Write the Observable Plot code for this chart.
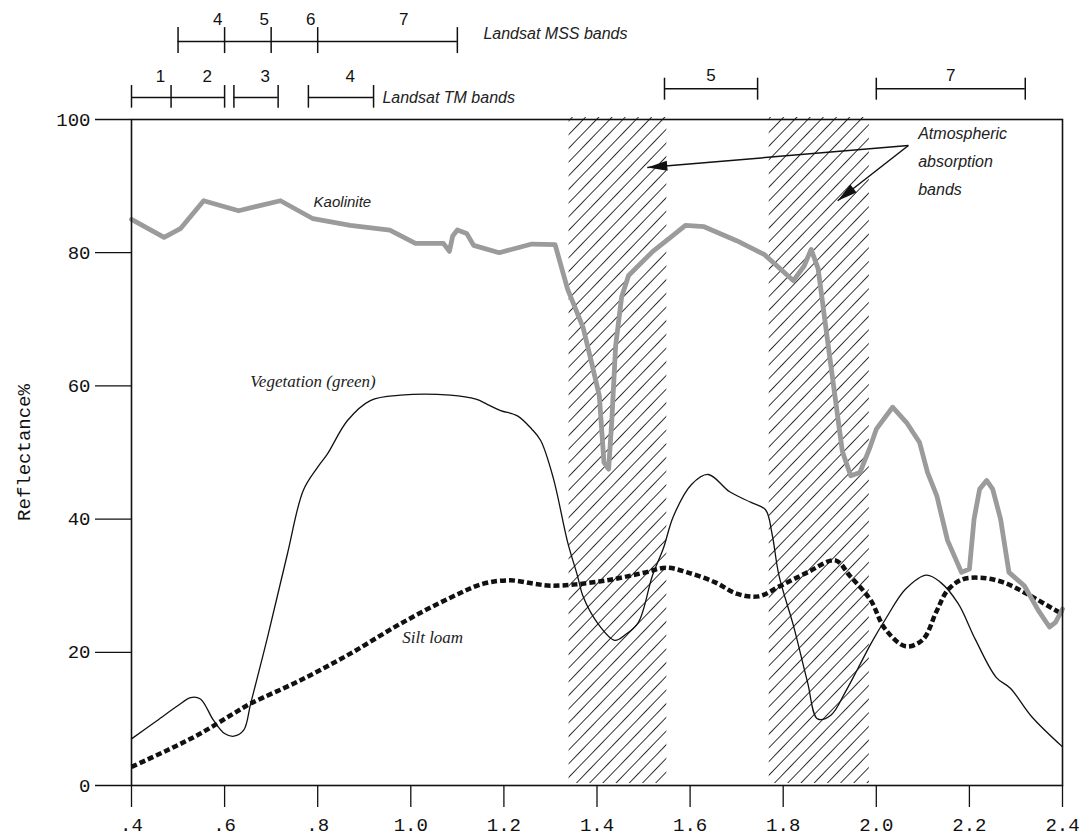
<!DOCTYPE html>
<html>
<head>
<meta charset="utf-8">
<script src="https://cdn.jsdelivr.net/npm/d3@7"></script>
<script src="https://cdn.jsdelivr.net/npm/@observablehq/plot@0.6"></script>
<style>
  html, body { margin: 0; padding: 0; background: #fff; }
  #chart svg { display: block; }
</style>
</head>
<body>
<div id="chart"></div>
<script>
// ---- Data (wavelength in µm, reflectance in %) ----
const kaolinite = [
  [0.40,85.0],[0.47,82.3],[0.505,83.6],[0.555,87.8],[0.63,86.3],[0.72,87.8],[0.79,85.1],
  [0.87,84.1],[0.955,83.4],[1.01,81.4],[1.07,81.4],[1.083,80.2],[1.09,82.5],[1.10,83.4],
  [1.12,82.9],[1.135,81.1],[1.19,80.0],[1.26,81.3],[1.31,81.2],[1.337,74.5],[1.37,68.8],
  [1.39,63.0],[1.405,58.5],[1.415,48.5],[1.425,47.5],[1.432,55],[1.44,66],[1.453,73.4],
  [1.468,76.6],[1.52,80.2],[1.558,82.3],[1.59,84.1],[1.63,83.9],[1.70,81.8],[1.76,79.7],
  [1.822,75.8],[1.845,78],[1.86,80.5],[1.875,77.6],[1.897,65.9],[1.927,50.2],[1.945,46.5],
  [1.965,47],[1.985,50.5],[2.0,53.5],[2.035,56.8],[2.065,54.5],[2.093,51.5],[2.11,47],
  [2.13,43.5],[2.153,36.8],[2.183,32.0],[2.2,32.5],[2.21,40],[2.222,44.5],[2.237,45.8],
  [2.25,44.5],[2.267,40],[2.285,32],[2.318,30],[2.348,26.3],[2.372,23.8],[2.385,24.5],[2.40,26.5]
];
const vegetation = [
  [0.40,7.0],[0.45,9.5],[0.50,12.0],[0.527,13.2],[0.548,13.0],[0.576,9.8],[0.60,7.8],
  [0.62,7.4],[0.641,8.3],[0.656,12.3],[0.692,22.2],[0.735,34.8],[0.769,44.3],[0.80,47.8],
  [0.821,49.8],[0.864,54.8],[0.913,57.8],[0.978,58.6],[1.085,58.6],[1.14,58],[1.165,57.2],
  [1.193,56.3],[1.229,55.5],[1.26,53.5],[1.279,51.8],[1.306,46.2],[1.337,36.5],[1.358,31.5],
  [1.37,28.4],[1.40,24.5],[1.438,21.8],[1.46,22.6],[1.489,24.5],[1.519,31.5],[1.543,35.7],
  [1.564,40.4],[1.603,45.2],[1.639,46.7],[1.685,44.1],[1.731,42.5],[1.762,41.4],[1.776,37.8],
  [1.791,31.5],[1.822,24.0],[1.852,15.6],[1.874,10.0],[1.903,10.6],[1.934,14.1],[1.96,17.5],
  [1.99,21.5],[2.02,25],[2.063,29.5],[2.108,31.6],[2.138,30.5],[2.176,27.3],[2.213,21.9],
  [2.258,16.2],[2.288,14.6],[2.333,10.4],[2.40,5.8]
];
const siltLoam = [
  [0.40,2.8],[0.477,5.3],[0.548,7.8],[0.619,10.8],[0.656,12.3],[0.763,15.8],[0.87,19.8],
  [0.978,24.3],[1.085,28.2],[1.156,30.3],[1.214,30.8],[1.264,30.3],[1.30,30.0],[1.354,30.2],
  [1.429,30.9],[1.504,32.0],[1.549,32.7],[1.594,32.0],[1.654,30.5],[1.70,28.8],[1.747,28.4],
  [1.792,29.9],[1.852,32.0],[1.912,33.8],[1.943,31.5],[1.988,27.8],[2.018,23.6],[2.063,20.9],
  [2.1,21.9],[2.129,26.1],[2.153,29.3],[2.183,30.9],[2.222,31.2],[2.273,30.5],[2.333,28.4],[2.40,25.7]
];
const absorptionBands = [
  {x1: 1.34, x2: 1.55},
  {x1: 1.77, x2: 1.985}
];
const mssBands = [
  {label: "4", start: 0.5, end: 0.6},
  {label: "5", start: 0.6, end: 0.7},
  {label: "6", start: 0.7, end: 0.8},
  {label: "7", start: 0.8, end: 1.1}
];
const tmBandsLow = [
  {label: "1", start: 0.40, end: 0.485},
  {label: "2", start: 0.485, end: 0.60},
  {label: "3", start: 0.62, end: 0.715},
  {label: "4", start: 0.78, end: 0.92}
];
const tmBandsHigh = [
  {label: "5", start: 1.545, end: 1.745},
  {label: "7", start: 2.0, end: 2.32}
];
const xTicks = [0.4,0.6,0.8,1.0,1.2,1.4,1.6,1.8,2.0,2.2,2.4];
const xTickLabels = [".4",".6",".8","1.0","1.2","1.4","1.6","1.8","2.0","2.2","2.4"];
const yTicks = [0,20,40,60,80,100];
const curveLabels = [
  {text: "Kaolinite", x: 0.853, y: 87.6},
  {text: "Vegetation (green)", x: 0.79, y: 60.7},
  {text: "Silt loam", x: 1.047, y: 22.2}
];
const arrowSource = {x: 2.069, y: 96.1};
const arrowTargets = [
  {x: 1.508, y: 92.8, angle: 265},
  {x: 1.917, y: 87.8, angle: 232}
];
const annotationText = {text: "Atmospheric\nabsorption\nbands", x: 2.09, y: 100.1};

// ---- helpers ----
const bracketTicks = (bands) => {
  const s = new Set();
  bands.forEach(b => { s.add(b.start); s.add(b.end); });
  return Array.from(s);
};
const arrowHead = {
  draw(ctx) {
    ctx.moveTo(0, 0);
    ctx.lineTo(-5, 20);
    ctx.lineTo(5, 20);
    ctx.closePath();
  }
};
const sansItalic = "Liberation Sans, Arial, sans-serif";
const serif = "Liberation Serif, Times New Roman, serif";
const mono = "Liberation Mono, Courier New, monospace";

// levels (data units above the frame) for the band brackets
const MSS = {bar: 111.7, t1: 109.9, t2: 113.8, lab: 115.0};
const TM = {bar: 103.3, t1: 101.7, t2: 105.1, lab: 106.4};
const TM2 = {bar: 104.6, t1: 102.9, t2: 106.2, lab: 106.6};

const plot = Plot.plot({
  width: 1089,
  height: 840,
  marginTop: 119,
  marginBottom: 55,
  marginLeft: 131,
  marginRight: 27,
  style: {fontFamily: mono, fontSize: "19px", color: "#111", background: "#fff"},
  x: {domain: [0.4, 2.4]},
  y: {domain: [0, 100]},
  marks: [
    Plot.rect(absorptionBands, {x1: "x1", x2: "x2", y1: 0, y2: 100, dy: -2, fill: "url(#hatch)", inset: 0}),
    Plot.line(siltLoam, {x: d => d[0], y: d => d[1], stroke: "#111", strokeWidth: 4.5, strokeDasharray: "6,3", strokeLinecap: "butt", curve: "catmull-rom"}),
    Plot.line(vegetation, {x: d => d[0], y: d => d[1], stroke: "#111", strokeWidth: 1.3, curve: "catmull-rom"}),
    Plot.line(kaolinite, {x: d => d[0], y: d => d[1], stroke: "#9b9b9b", strokeWidth: 4.8, curve: "linear", strokeLinejoin: "round"}),
    Plot.frame({stroke: "#111", strokeWidth: 1.6}),
    Plot.axisX({ticks: xTicks, tickFormat: (d, i) => xTickLabels[i], tickSize: 22, tickPadding: 10, fontSize: 19, fontFamily: mono, strokeWidth: 1.3, label: null}),
    Plot.axisY({ticks: yTicks, tickSize: 36, tickPadding: 5, fontSize: 19, fontFamily: mono, strokeWidth: 1.3,
      label: "Reflectance%", labelAnchor: "center", labelArrow: "none", labelOffset: 115}),
    // Landsat MSS bands
    Plot.ruleY([MSS.bar], {x1: 0.5, x2: 1.1, stroke: "#111", strokeWidth: 1.5, clip: false}),
    Plot.ruleX(bracketTicks(mssBands), {x: d => d, y1: MSS.t1, y2: MSS.t2, stroke: "#111", strokeWidth: 1.5}),
    Plot.text(mssBands, {x: d => (d.start + d.end) / 2 + 0.035, y: MSS.lab, text: "label", fontFamily: sansItalic, fontSize: 17, fill: "#111"}),
    Plot.text(["Landsat MSS bands"], {x: 1.156, y: MSS.bar + 1.2, text: d => d, textAnchor: "start", fontFamily: sansItalic, fontStyle: "italic", fontSize: 16, fill: "#222"}),
    // Landsat TM bands (short wavelengths)
    Plot.ruleY([TM.bar], {x1: 0.40, x2: 0.60, stroke: "#111", strokeWidth: 1.5}),
    Plot.ruleY([TM.bar], {x1: 0.62, x2: 0.715, stroke: "#111", strokeWidth: 1.5}),
    Plot.ruleY([TM.bar], {x1: 0.78, x2: 0.92, stroke: "#111", strokeWidth: 1.5}),
    Plot.ruleX(bracketTicks(tmBandsLow), {x: d => d, y1: TM.t1, y2: TM.t2, stroke: "#111", strokeWidth: 1.5}),
    Plot.text(tmBandsLow, {x: d => (d.start + d.end) / 2 + 0.02, y: TM.lab, text: "label", fontFamily: sansItalic, fontSize: 17, fill: "#111"}),
    Plot.text(["Landsat TM bands"], {x: 0.939, y: TM.bar, text: d => d, textAnchor: "start", fontFamily: sansItalic, fontStyle: "italic", fontSize: 16, fill: "#222"}),
    // Landsat TM bands (long wavelengths)
    Plot.ruleY(tmBandsHigh, {x1: "start", x2: "end", y: TM2.bar, stroke: "#111", strokeWidth: 1.5}),
    Plot.ruleX(bracketTicks(tmBandsHigh), {x: d => d, y1: TM2.t1, y2: TM2.t2, stroke: "#111", strokeWidth: 1.5}),
    Plot.text(tmBandsHigh, {x: d => (d.start + d.end) / 2, y: TM2.lab, text: "label", fontFamily: sansItalic, fontSize: 17, fill: "#111"}),
    // curve labels
    Plot.text(curveLabels.slice(0, 1), {x: "x", y: "y", text: "text", fontFamily: sansItalic, fontStyle: "italic", fontSize: 15, fill: "#222"}),
    Plot.text(curveLabels.slice(1), {x: "x", y: "y", text: "text", fontFamily: serif, fontStyle: "italic", fontSize: 17, fill: "#222"}),
    // annotation
    Plot.link(arrowTargets, {x1: arrowSource.x, y1: arrowSource.y, x2: "x", y2: "y", stroke: "#111", strokeWidth: 1.5}),
    Plot.dot(arrowTargets, {x: "x", y: "y", symbol: arrowHead, rotate: "angle", fill: "#111", stroke: "none", r: 5}),
    Plot.text([annotationText], {x: "x", y: "y", text: "text", textAnchor: "start", lineAnchor: "top", lineHeight: 1.75, fontFamily: sansItalic, fontStyle: "italic", fontSize: 16, fill: "#222"})
  ]
});

const ns = "http://www.w3.org/2000/svg";
const defs = document.createElementNS(ns, "defs");
defs.innerHTML = '<pattern id="hatch" patternUnits="userSpaceOnUse" width="9.5" height="9.5" patternTransform="rotate(44)"><line x1="0" y1="-2" x2="0" y2="12" stroke="#111" stroke-width="1.7"/></pattern>';
plot.insertBefore(defs, plot.firstChild);
document.getElementById("chart").appendChild(plot);
</script>
</body>
</html>
